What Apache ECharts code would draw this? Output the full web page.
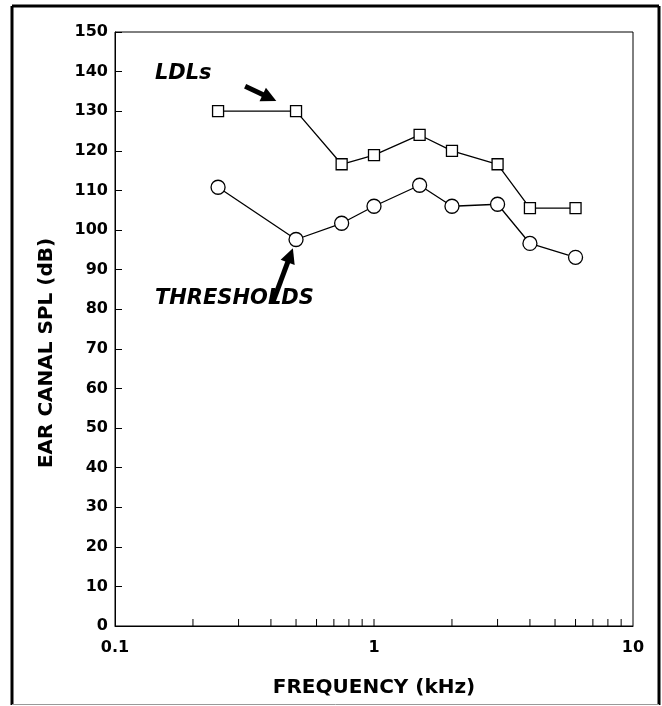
<!DOCTYPE html>
<html>
<head>
<meta charset="utf-8">
<script src="https://cdn.jsdelivr.net/npm/echarts@6/dist/echarts.min.js"></script>
<style>
html,body{margin:0;padding:0;background:#fff;}
#chart{width:662px;height:706px;}
</style>
</head>
<body>
<div id="chart"></div>
<script>
var frequencies = [0.25, 0.5, 0.75, 1, 1.5, 2, 3, 4, 6];
var ldls = [130, 130, 116.6, 118.9, 124, 120, 116.6, 105.5, 105.5];
var thresholds = [110.8, 97.6, 101.7, 106, 111.3, 106, 106.5, 96.6, 93.1];
var minorTicks = [0.2, 0.3, 0.4, 0.5, 0.6, 0.7, 0.8, 0.9, 1, 2, 3, 4, 5, 6, 7, 8, 9];
var yTicks = [0, 150, 10];

var FONT = 'DejaVu Sans';

function pairs(xs, ys) { return xs.map(function (x, i) { return [x, ys[i]]; }); }

var chart = echarts.init(document.getElementById('chart'), null, {renderer: 'canvas'});
chart.setOption({
  backgroundColor: '#fff',
  animation: false,
  grid: {left: 115, right: 29, top: 32, bottom: 80, show: true, borderColor: '#000', borderWidth: 1, backgroundColor: 'transparent'},
  xAxis: {
    type: 'log', logBase: 10, min: 0.1, max: 10,
    name: 'FREQUENCY (kHz)', nameLocation: 'middle', nameGap: 52,
    nameTextStyle: {fontFamily: FONT, fontWeight: 'bold', fontSize: 20, color: '#000'},
    axisLine: {show: true, lineStyle: {color: '#000', width: 1}},
    axisTick: {show: false},
    minorTick: {show: false},
    splitLine: {show: false},
    axisLabel: {fontFamily: FONT, fontWeight: 'bold', fontSize: 16, color: '#000', margin: 14,
      formatter: function (v) { return String(v); }}
  },
  yAxis: {
    type: 'value', min: yTicks[0], max: yTicks[1], interval: yTicks[2],
    name: 'EAR CANAL SPL (dB)', nameLocation: 'middle', nameGap: 58,
    nameTextStyle: {fontFamily: FONT, fontWeight: 'bold', fontSize: 20, color: '#000', padding: [0, 48, 0, 0]},
    axisLine: {show: true, lineStyle: {color: '#000', width: 1}},
    axisTick: {show: true, inside: true, length: 7, lineStyle: {color: '#000', width: 1}},
    splitLine: {show: false},
    axisLabel: {fontFamily: FONT, fontWeight: 'bold', fontSize: 16, color: '#000', margin: 7}
  },
  graphic: [
    {type: 'line', shape: {x1: 12, y1: 6, x2: 12, y2: 705}, style: {stroke: '#000', lineWidth: 3}},
    {type: 'line', shape: {x1: 12, y1: 6, x2: 659, y2: 6}, style: {stroke: '#000', lineWidth: 3}},
    {type: 'line', shape: {x1: 659, y1: 6, x2: 659, y2: 705}, style: {stroke: '#000', lineWidth: 3}},
    {type: 'line', shape: {x1: 12, y1: 704.5, x2: 659, y2: 704.5}, style: {stroke: '#999', lineWidth: 1}}
  ],
  series: [
    {
      type: 'custom', name: 'minor', silent: true, z: 1,
      data: minorTicks.map(function (v) { return [v, 0]; }),
      renderItem: function (params, api) {
        var p = api.coord([api.value(0), 0]);
        return {type: 'line', shape: {x1: p[0], y1: p[1], x2: p[0], y2: p[1] - 7}, style: {stroke: '#000', lineWidth: 1}};
      }
    },
    {
      type: 'line', name: 'LDLs', data: pairs(frequencies, ldls),
      symbol: 'rect', symbolSize: 11, showSymbol: true,
      lineStyle: {color: '#000', width: 1.3},
      itemStyle: {color: '#fff', borderColor: '#000', borderWidth: 1.3},
      z: 3,
      markPoint: {
        silent: true, symbol: 'circle', symbolSize: 0,
        data: [{coord: [0.1426, 139.6]}],
        label: {show: true, position: 'right', distance: 0, formatter: 'LDLs',
          fontFamily: FONT, fontWeight: 'bold', fontStyle: 'italic', fontSize: 21, color: '#000'}
      },
      markLine: {
        silent: true, symbol: ['none', 'triangle'], symbolSize: 15,
        label: {show: false},
        lineStyle: {color: '#000', width: 5, type: 'solid'},
        data: [[{coord: [0.318, 136.3]}, {coord: [0.395, 133.4]}]]
      }
    },
    {
      type: 'line', name: 'THRESHOLDS', data: pairs(frequencies, thresholds),
      symbol: 'circle', symbolSize: 14, showSymbol: true,
      lineStyle: {color: '#000', width: 1.3},
      itemStyle: {color: '#fff', borderColor: '#000', borderWidth: 1.3},
      z: 3,
      markPoint: {
        silent: true, symbol: 'circle', symbolSize: 0,
        data: [{coord: [0.1426, 82.8]}],
        label: {show: true, position: 'right', distance: 0, formatter: 'THRESHOLDS',
          fontFamily: FONT, fontWeight: 'bold', fontStyle: 'italic', fontSize: 21, color: '#000'}
      },
      markLine: {
        silent: true, symbol: ['none', 'triangle'], symbolSize: 15,
        label: {show: false},
        lineStyle: {color: '#000', width: 5, type: 'solid'},
        data: [[{coord: [0.408, 82]}, {coord: [0.475, 93.6]}]]
      }
    }
  ]
});
</script>
</body>
</html>
